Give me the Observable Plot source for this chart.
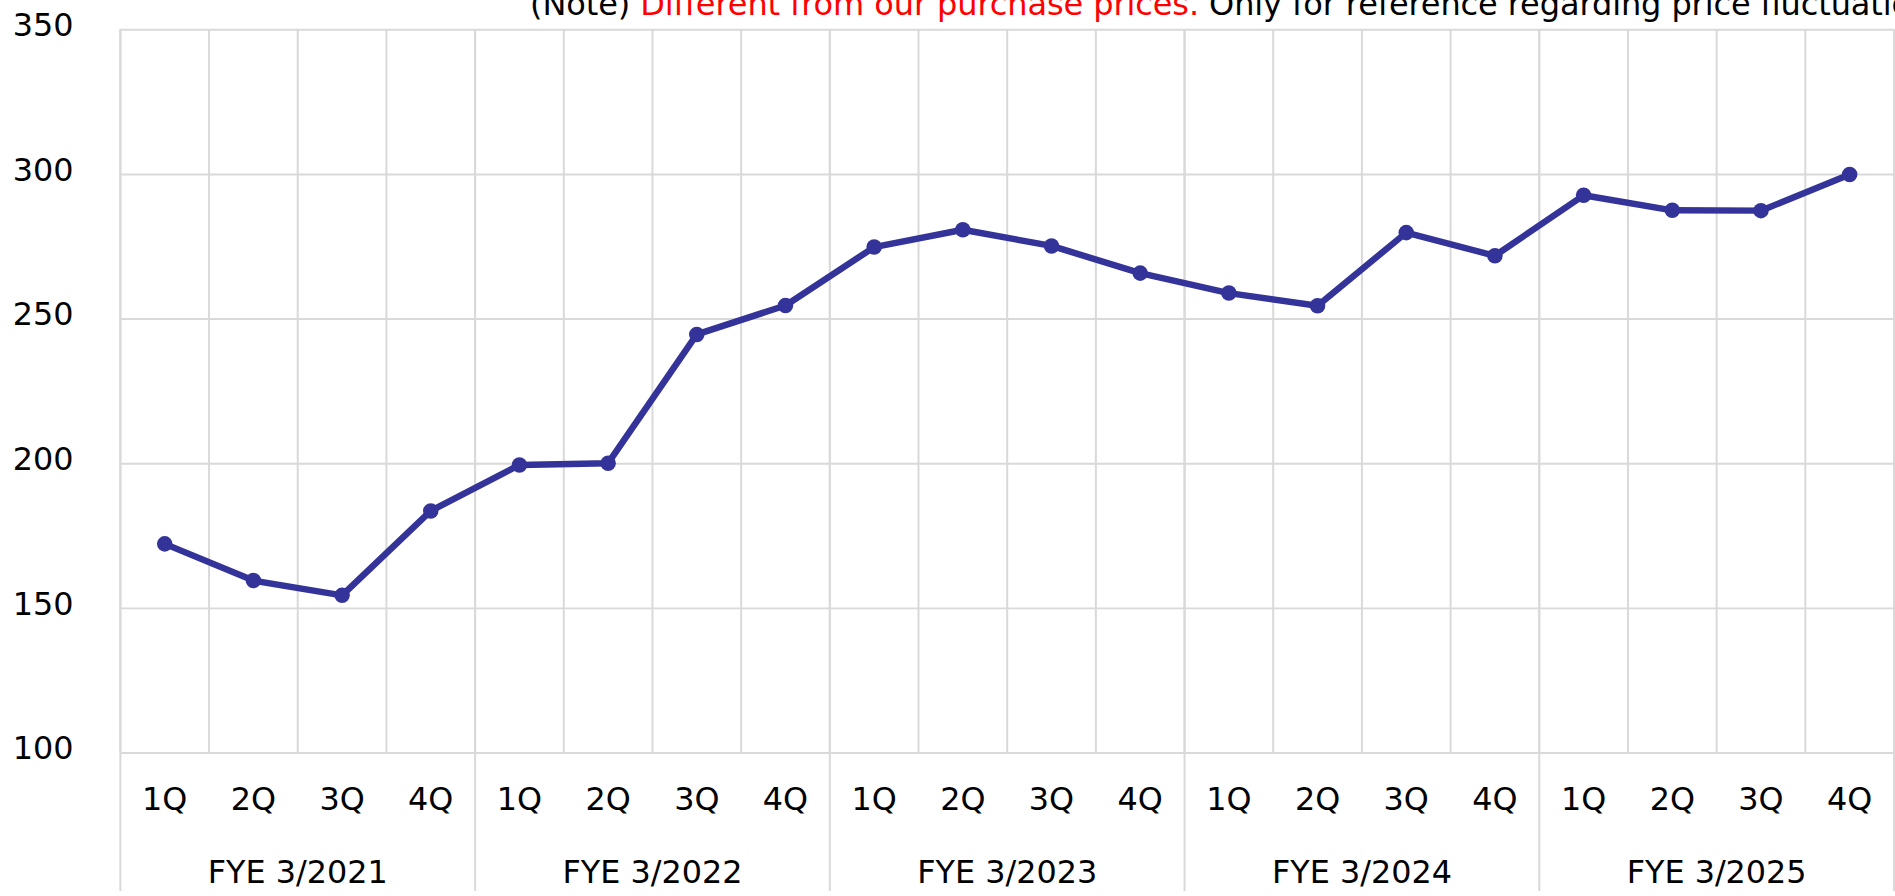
<!DOCTYPE html>
<html>
<head>
<meta charset="utf-8">
<script src="https://cdn.jsdelivr.net/npm/d3@7"></script>
<script src="https://cdn.jsdelivr.net/npm/@observablehq/plot@0.6"></script>
<style>
  html, body { margin: 0; padding: 0; overflow: hidden; background: #fff; width: 1895px; height: 896px; }
  #wrap { position: relative; width: 1895px; height: 896px; }
  #note { position: absolute; left: 530px; top: -12px; font-family: "DejaVu Sans", Verdana, sans-serif; font-size: 32px; line-height: 32px; white-space: nowrap; color: #000; z-index: 2; letter-spacing: -0.1px; }
  #note .red { color: #ff0000; }
  #chart { position: absolute; left: 0; top: 0; }
</style>
</head>
<body>
<div id="wrap">
  <div id="note">(Note) <span class="red">Different from our purchase prices.</span> Only for reference regarding price fluctuations.</div>
  <div id="chart"></div>
</div>
<script>
const years = ["FYE 3/2021", "FYE 3/2022", "FYE 3/2023", "FYE 3/2024", "FYE 3/2025"];
const quarters = ["1Q", "2Q", "3Q", "4Q"];
const values = [
  172.3, 159.6, 154.5, 183.7,
  199.6, 200.2, 244.7, 254.7,
  274.9, 280.9, 275.3, 265.9,
  259.0, 254.6, 279.9, 271.9,
  292.8, 287.6, 287.5, 300.0
];
const yTicks = [100, 150, 200, 250, 300, 350];

const data = values.map((v, i) => ({
  i,
  year: years[Math.floor(i / quarters.length)],
  quarter: quarters[i % quarters.length],
  value: v
}));
const yearRows = years.map((y, k) => ({ k, year: y }));
const nQ = values.length;
const boundaries = d3.range(0, nQ + 1);
const yearBoundaries = d3.range(0, nQ + 1, quarters.length);

const grid = "#d9d9d9";
const lineColor = "#333399";

const chart = Plot.plot({
  width: 1905,
  height: 896,
  marginLeft: 120.5,
  marginRight: 1.5,
  marginTop: 29.5,
  marginBottom: 139.5,
  style: { fontFamily: "'DejaVu Sans', Verdana, sans-serif", fontSize: "32px", color: "#000", background: "transparent" },
  x: { type: "linear", domain: [0, nQ], axis: null },
  y: { domain: [100, 350], axis: null },
  marks: [
    Plot.ruleY(yTicks, { stroke: grid, strokeWidth: 2 }),
    Plot.ruleX(boundaries, { stroke: grid, strokeWidth: 2 }),
    Plot.ruleX(yearBoundaries, { stroke: grid, strokeWidth: 2, insetBottom: -145 }),
    Plot.axisY(yTicks, { tickSize: 0, tickPadding: 47, fontSize: 32, dy: -4, fill: "#000", label: null }),
    Plot.line(data, { x: d => d.i + 0.5, y: "value", stroke: lineColor, strokeWidth: 6.5, strokeLinejoin: "round" }),
    Plot.dot(data, { x: d => d.i + 0.5, y: "value", r: 7.8, fill: lineColor, stroke: "none" }),
    Plot.text(data, { x: d => d.i + 0.5, text: "quarter", frameAnchor: "bottom", lineAnchor: "top", dy: 34.8, fontSize: 32, fill: "#000" }),
    Plot.text(yearRows, { x: d => d.k * quarters.length + quarters.length / 2, text: "year", frameAnchor: "bottom", lineAnchor: "top", dy: 107.5, fontSize: 32, fill: "#000" })
  ]
});
document.getElementById("chart").appendChild(chart);
</script>
</body>
</html>
